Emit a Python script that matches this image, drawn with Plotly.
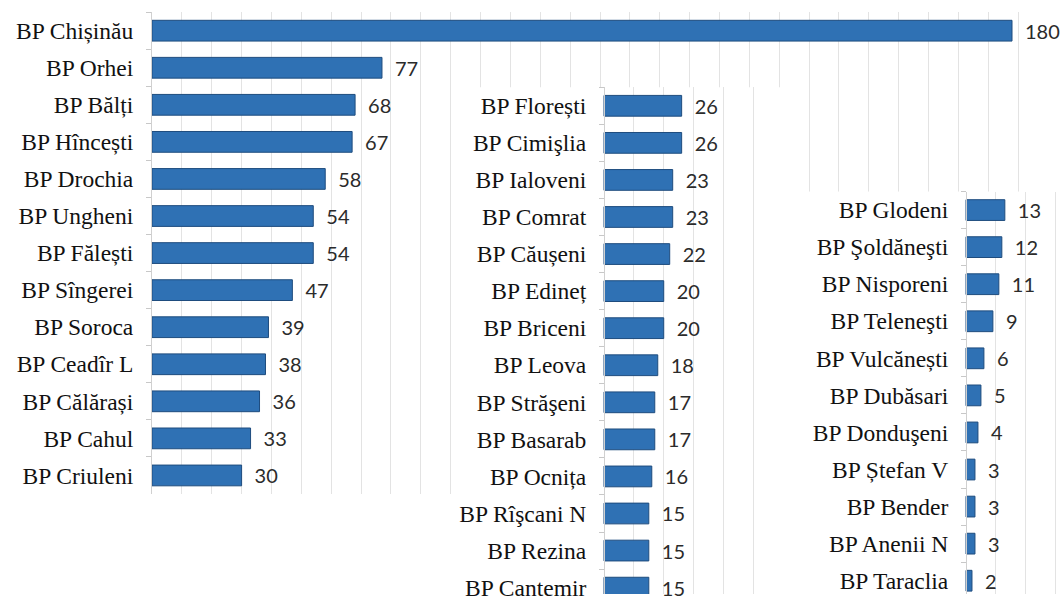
import plotly.graph_objects as go

# 1列目（上位）
names1 = ["BP Chișinău", "BP Orhei", "BP Bălți", "BP Hîncești", "BP Drochia", "BP Ungheni",
          "BP Fălești", "BP Sîngerei", "BP Soroca", "BP Ceadîr L", "BP Călărași", "BP Cahul",
          "BP Criuleni"]
values1 = [180, 77, 68, 67, 58, 54, 54, 47, 39, 38, 36, 33, 30]

# 2列目
names2 = ["BP Florești", "BP Cimişlia", "BP Ialoveni", "BP Comrat", "BP Căușeni", "BP Edineț",
          "BP Briceni", "BP Leova", "BP Străşeni", "BP Basarab", "BP Ocnița", "BP Rîşcani N",
          "BP Rezina", "BP Cantemir"]
values2 = [26, 26, 23, 23, 22, 20, 20, 18, 17, 17, 16, 15, 15, 15]

# 3列目
names3 = ["BP Glodeni", "BP Şoldăneşti", "BP Nisporeni", "BP Teleneşti", "BP Vulcănești",
          "BP Dubăsari", "BP Donduşeni", "BP Ștefan V", "BP Bender", "BP Anenii N", "BP Taraclia"]
values3 = [13, 12, 11, 9, 6, 5, 4, 3, 3, 3, 2]

W, H = 1064, 601
scale = 896 / 300  # px per unit

bar_color = "#2f71b4"
edge_color = "#1e4c7e"
num_font = dict(family="Lato, Liberation Sans, sans-serif", size=20, color="#2b2b2b")
lab_font = dict(family="Liberation Serif, Times New Roman, serif", size=23.5, color="#111111")
grid = "#e3e3e3"
axis_line = "#d0d0d0"


def bar(names, vals, xa, ya):
    return go.Bar(
        y=names, x=vals, orientation="h", xaxis=xa, yaxis=ya,
        marker=dict(color=bar_color, line=dict(color=edge_color, width=1)),
        text=["\u2002" + str(v) for v in vals], textposition="outside",
        textfont=num_font, constraintext="none", cliponaxis=False,
        showlegend=False, hoverinfo="x+y",
    )


fig = go.Figure()
fig.add_trace(bar(names1[1:], values1[1:], "x", "y"))
fig.add_trace(bar(names2, values2, "x2", "y2"))
fig.add_trace(bar(names3, values3, "x3", "y3"))
# 首都だけ別スケール
fig.add_trace(bar(names1[:1], values1[:1], "x4", "y"))

yax = dict(type="category", categoryorder="array", showline=True, linecolor=axis_line,
           linewidth=1, ticks="outside", tickson="boundaries", ticklen=5, tickcolor="#c8c8c8",
           tickfont=lab_font, ticklabelstandoff=13, showgrid=False, zeroline=False, fixedrange=True)
xax = dict(showticklabels=False, ticks="", showline=False, zeroline=False, showgrid=True,
           gridcolor=grid, gridwidth=1, fixedrange=True)

row = 37.5
x1_dom = [152 / W, 1048 / W]
x2_dom = [452 / W, 783.5 / W]
x3_dom = [785 / W, 1.0]
top1 = 12.3
top2 = 88.3
top3 = 193.8

fig.update_layout(
    width=W, height=H,
    margin=dict(l=0, r=0, t=0, b=0),
    paper_bgcolor="white", plot_bgcolor="white",
    barmode="overlay", bargap=0.44,
    xaxis=dict(xax, domain=x1_dom, range=[0, 300], tickmode="linear", tick0=0, dtick=10,
               anchor="y"),
    yaxis=dict(yax, domain=[1 - (top1 + 13 * row) / H, 1 - top1 / H], categoryarray=names1,
               range=[12.5, -0.5], anchor="x"),
    xaxis2=dict(xax, domain=x2_dom,
                range=[-(604 - 452) / scale, (783.5 - 604) / scale],
                tickmode="array", tickvals=list(range(10, 70, 10)), anchor="y2"),
    yaxis2=dict(yax, domain=[0, 1 - top2 / H], categoryarray=names2,
                range=[(H - top2) / row - 0.5, -0.5], anchor="free", position=604 / W),
    xaxis3=dict(xax, domain=x3_dom,
                range=[-(966 - 785) / scale, (W - 966) / scale],
                tickmode="array", tickvals=[10, 20, 30], anchor="y3"),
    yaxis3=dict(yax, domain=[0, 1 - top3 / H], categoryarray=names3,
                range=[(H - top3) / row - 0.5, -0.5], anchor="free", position=966 / W),
    xaxis4=dict(overlaying="x", range=[0, 180 * 896 / (1012 - 152)], showgrid=False,
                showticklabels=False, ticks="", showline=False, zeroline=False,
                fixedrange=True, anchor="y"),
)

fig.write_html("out.html", config={"displayModeBar": False},
               post_script="document.body.style.margin='0';")
